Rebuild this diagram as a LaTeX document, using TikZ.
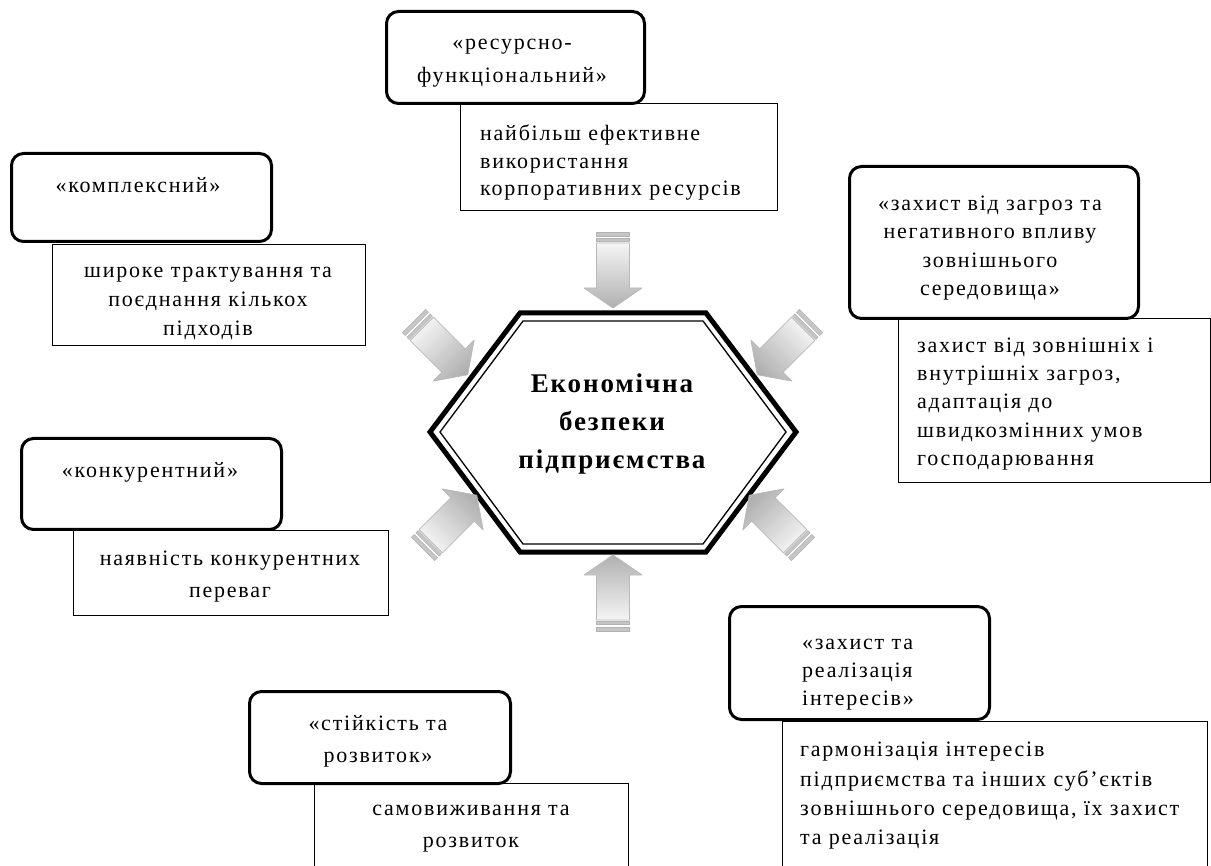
\documentclass[tikz,border=0pt]{standalone}
\usepackage{fontspec}
\setmainfont{Liberation Serif}
\newfontfamily\bodyfont[LetterSpace=8]{Liberation Serif}
\newfontfamily\hexfont[LetterSpace=7]{Liberation Serif}
\newcommand{\tfont}[1]{\bodyfont\fontsize{22}{#1}\selectfont}
\tikzset{
  rbox/.style={draw, line width=3pt, rounded corners=12pt, inner sep=0pt, anchor=north west},
  tbox/.style={draw, line width=1.3pt, inner sep=0pt, anchor=north west},
  txt/.style={inner sep=0pt, font=\tfont{28}},
  hextext/.style={inner sep=0pt, align=center, font=\hexfont\fontsize{27}{38}\selectfont\bfseries},
  arrowfill/.style={shading=axis, top color=gray!8, bottom color=gray!62},
  arrowedge/.style={draw=gray!55, line width=0.8pt, line join=round},
  barfill/.style={fill=gray!45, draw=gray!60, line width=0.5pt}
}
\newcommand{\blkarrow}[4]{%
  \begin{scope}[shift={(#1,#2)}, rotate=#3]
    \shade[arrowfill, shading angle=#4] (11,-16.5) -- (56,-16.5) -- (56,-29) -- (76,0) -- (56,29) -- (56,16.5) -- (11,16.5) -- cycle;
    \draw[arrowedge] (11,-16.5) -- (56,-16.5) -- (56,-29) -- (76,0) -- (56,29) -- (56,16.5) -- (11,16.5) -- cycle;
    \filldraw[barfill] (0,-16.5) rectangle (4,16.5);
    \filldraw[barfill] (6.5,-16.5) rectangle (9.5,16.5);
  \end{scope}}
\begin{document}
\begin{tikzpicture}[x=1pt,y=-1pt]
\useasboundingbox (0,0) rectangle (1211,866);
\clip (0,0) rectangle (1211,866);
\fill[white] (0,0) rectangle (1211,866);

% centre hexagon
\draw[line width=5pt, line join=miter] (430,432) -- (520,313) -- (706,313) -- (796,432) -- (706,552) -- (520,552) -- cycle;
\draw[line width=1.3pt, line join=miter] (440,432) -- (523,321) -- (703,321) -- (786,432) -- (703,544) -- (523,544) -- cycle;
\node[hextext] (hex) at (612,424) {Економічна\\безпеки\\підприємства};

% block arrows
\blkarrow{613}{232}{-90}{0}
\blkarrow{613}{631}{90}{180}
\blkarrow{414}{321}{-45}{45}
\blkarrow{811}{321}{-135}{-45}
\blkarrow{423}{549}{45}{135}
\blkarrow{803}{549}{135}{225}

% 1 resource-functional
\node[tbox, minimum width=317pt, minimum height=107pt] (t1) at (460,103) {};
\node[rbox, minimum width=258pt, minimum height=92pt] (r1) at (385,10) {};
\node[txt, align=center, font=\tfont{33}] (l1) at (512,63) {«ресурсно-\\функціональний»};
\node[txt, align=left, anchor=west, font=\tfont{27.5}] (d1) at (480,163) {найбільш ефективне\\використання\\корпоративних ресурсів};

% 2 complex
\node[tbox, minimum width=313pt, minimum height=101pt] (t2) at (52,244) {};
\node[rbox, minimum width=260pt, minimum height=88pt] (r2) at (10,152) {};
\node[txt] (l2) at (138,185) {«комплексний»};
\node[txt, align=center, font=\tfont{29}] (d2) at (208,303) {широке трактування та\\поєднання кількох\\підходів};

% 3 protection from threats
\node[tbox, minimum width=312pt, minimum height=164pt] (t3) at (898,318) {};
\node[rbox, minimum width=289pt, minimum height=152pt] (r3) at (848,165) {};
\node[txt, align=center, font=\tfont{28.3}] (l3) at (990,248) {«захист від загроз та\\негативного впливу\\зовнішнього\\середовища»};
\node[txt, align=left, anchor=west, font=\tfont{28.3}] (d3) at (917,404) {захист від зовнішніх і\\внутрішніх загроз,\\адаптація до\\швидкозмінних умов\\господарювання};

% 4 competitive
\node[tbox, minimum width=315pt, minimum height=85pt] (t4) at (73,530) {};
\node[rbox, minimum width=260pt, minimum height=91pt] (r4) at (20,437) {};
\node[txt] (l4) at (150,472) {«конкурентний»};
\node[txt, align=center, font=\tfont{32}] (d4) at (230,577) {наявність конкурентних\\переваг};

% 5 stability and development
\node[tbox, minimum width=314pt, minimum height=100pt] (t5) at (314,783) {};
\node[rbox, minimum width=261pt, minimum height=92pt] (r5) at (248,690) {};
\node[txt, align=center, font=\tfont{32}] (l5) at (378,741) {«стійкість та\\розвиток»};
\node[txt, align=center, font=\tfont{32}] (d5) at (471,829) {самовиживання та\\розвиток};

% 6 protection and realisation of interests
\node[tbox, minimum width=425pt, minimum height=160pt] (t6) at (782,721) {};
\node[rbox, minimum width=260pt, minimum height=113pt] (r6) at (728,605) {};
\node[txt, align=left, anchor=west, font=\tfont{28}] (l6) at (802,675) {«захист та\\реалізація\\інтересів»};
\node[txt, align=left, anchor=west, font=\tfont{29.3}] (d6) at (800,796) {гармонізація інтересів\\підприємства та інших суб’єктів\\зовнішнього середовища, їх захист\\та реалізація};
\end{tikzpicture}
\end{document}
